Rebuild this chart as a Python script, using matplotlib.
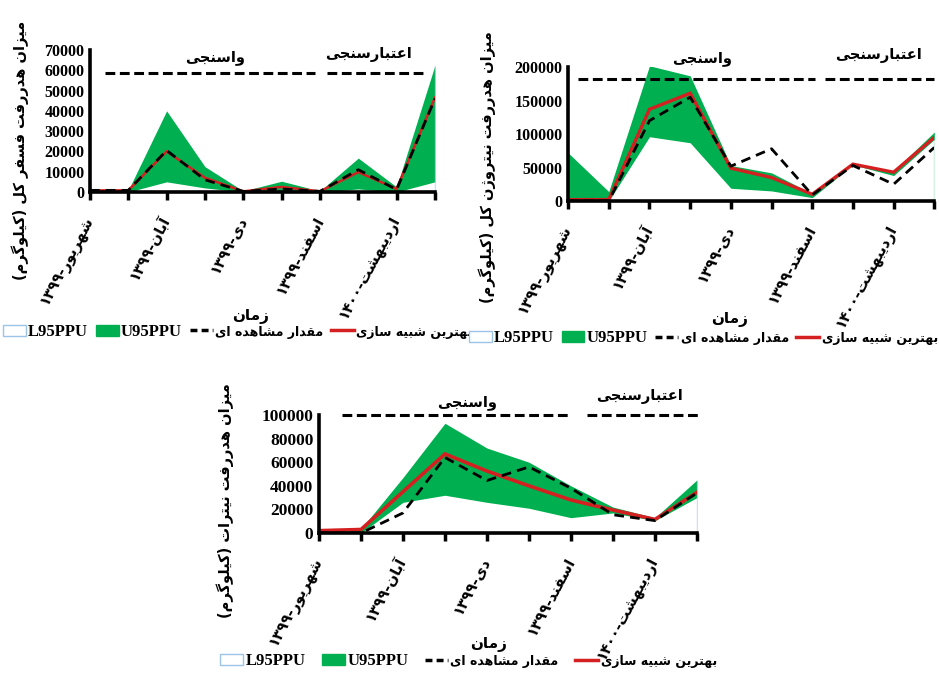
import re
import matplotlib
matplotlib.use('Agg')
import matplotlib.pyplot as plt
from matplotlib.patches import Patch
from matplotlib.lines import Line2D

# ماه‌ها (فقط ماه‌های زوج برچسب دارند)
month_labels = ['شهریور-۱۳۹۹', '', 'آبان-۱۳۹۹', '', 'دی-۱۳۹۹', '',
                'اسفند-۱۳۹۹', '', 'اردیبهشت-۱۴۰۰', '']

# فسفر کل
phos_obs = [800, 800, 20500, 6000, 300, 1500, 300, 11000, 1200, 46000]
phos_sim = [800, 800, 20000, 7000, 300, 2500, 300, 9800, 1500, 46500]
phos_u95 = [900, 900, 40000, 12500, 500, 5300, 500, 16700, 2500, 62500]
phos_l95 = [0, 0, 5000, 2000, 0, 500, 0, 1500, 0, 5000]

# نیتروژن کل
nit_obs = [0, 0, 120000, 155000, 52000, 78000, 9000, 53000, 25000, 80000]
nit_sim = [2000, 2000, 137000, 161000, 49000, 35000, 10000, 55000, 43000, 95000]
nit_u95 = [72000, 14000, 202000, 187000, 53000, 42000, 11000, 56000, 45000, 103000]
nit_l95 = [0, 0, 96000, 87000, 19000, 15000, 5000, 54000, 38000, 92000]

# نیترات
no3_obs = [0, 0, 17000, 64000, 44500, 56000, 38000, 15500, 10500, 34000]
no3_sim = [2000, 3000, 35000, 67000, 52500, 40000, 28000, 19500, 11500, 34500]
no3_u95 = [2500, 3500, 47000, 93000, 72000, 60000, 40000, 22000, 13000, 45000]
no3_l95 = [0, 0, 26000, 32000, 26000, 21000, 13000, 17000, 10500, 30000]

GREEN = '#00B050'
RED = '#D42020'
EDGE = '#9DC3E6'

# شکل‌های حروف: (تنها، پایانی، آغازی، میانی)
FORMS = {
    'ا': ('\uFE8D', '\uFE8E', None, None),
    'آ': ('\uFE81', '\uFE82', None, None),
    'ب': ('\uFE8F', '\uFE90', '\uFE91', '\uFE92'),
    'ت': ('\uFE95', '\uFE96', '\uFE97', '\uFE98'),
    'ج': ('\uFE9D', '\uFE9E', '\uFE9F', '\uFEA0'),
    'د': ('\uFEA9', '\uFEAA', None, None),
    'ر': ('\uFEAD', '\uFEAE', None, None),
    'ز': ('\uFEAF', '\uFEB0', None, None),
    'ژ': ('\uFB8A', '\uFB8B', None, None),
    'س': ('\uFEB1', '\uFEB2', '\uFEB3', '\uFEB4'),
    'ش': ('\uFEB5', '\uFEB6', '\uFEB7', '\uFEB8'),
    'ع': ('\uFEC9', '\uFECA', '\uFECB', '\uFECC'),
    'ف': ('\uFED1', '\uFED2', '\uFED3', '\uFED4'),
    'ق': ('\uFED5', '\uFED6', '\uFED7', '\uFED8'),
    'ک': ('\uFB8E', '\uFB8F', '\uFB90', '\uFB91'),
    'گ': ('\uFB92', '\uFB93', '\uFB94', '\uFB95'),
    'ل': ('\uFEDD', '\uFEDE', '\uFEDF', '\uFEE0'),
    'م': ('\uFEE1', '\uFEE2', '\uFEE3', '\uFEE4'),
    'ن': ('\uFEE5', '\uFEE6', '\uFEE7', '\uFEE8'),
    'ه': ('\uFEE9', '\uFEEA', '\uFEEB', '\uFEEC'),
    'و': ('\uFEED', '\uFEEE', None, None),
    'ی': ('\uFBFC', '\uFBFD', '\uFBFE', '\uFBFF'),
}
MIRROR = {'(': ')', ')': '('}


def fa(text):
    # اتصال حروف و چیدن راست به چپ
    out = []
    for i, c in enumerate(text):
        if c not in FORMS:
            out.append(c)
            continue
        prev = text[i - 1] if i > 0 else ''
        nxt = text[i + 1] if i + 1 < len(text) else ''
        join_prev = prev in FORMS and FORMS[prev][2] is not None
        join_next = FORMS[c][2] is not None and nxt in FORMS
        if join_prev and join_next:
            out.append(FORMS[c][3])
        elif join_prev:
            out.append(FORMS[c][1])
        elif join_next:
            out.append(FORMS[c][2])
        else:
            out.append(FORMS[c][0])
    tokens = re.findall(r'[0-9\u06F0-\u06F9]+|.', ''.join(out))
    return ''.join(MIRROR.get(t, t) for t in reversed(tokens))


FA_FONT = {'family': 'DejaVu Sans', 'weight': 'bold'}
EN_FONT = {'family': 'Liberation Serif', 'weight': 'bold'}

fig = plt.figure(figsize=(9.39, 6.76), dpi=100)


def draw_panel(rect, obs, sim, low, up, yticks, ylabel, ylabel_xy, xlabel_xy,
               legend_xy, tick_size, red_lw, texts_y, line_y, spans,
               col_space=0.5):
    ax = fig.add_axes(rect)
    x = list(range(len(obs)))
    ax.fill_between(x, 0, up, color=GREEN, lw=0, zorder=1)
    ax.fill_between(x, 0, low, color='white', lw=0, zorder=1.1)
    ax.plot([x[-1], x[-1]], [0, up[-1]], color=EDGE, lw=0.9, zorder=1.2)
    ax.plot(x, sim, color=RED, lw=red_lw, zorder=3, solid_joinstyle='miter')
    ax.plot(x, obs, color='black', lw=2.0, ls=(0, (3.5, 2.2)), zorder=3.1)

    ax.set_xlim(0, x[-1])
    ax.set_ylim(0, yticks[-1])
    ax.set_yticks(yticks)
    ax.set_yticklabels([str(v) for v in yticks], fontdict=EN_FONT,
                       fontsize=tick_size)
    ax.tick_params(axis='y', length=0, pad=4)
    ax.set_xticks(x)
    ax.set_xticklabels([fa(m) for m in month_labels], fontdict=FA_FONT,
                       fontsize=10.5, rotation=62, ha='right', va='center',
                       rotation_mode='anchor')
    ax.tick_params(axis='x', length=6, width=2.5, pad=12)
    for side in ('top', 'right'):
        ax.spines[side].set_visible(False)
    for side in ('left', 'bottom'):
        ax.spines[side].set_linewidth(2.6)
        ax.spines[side].set_zorder(4)

    # بازه‌های واسنجی و اعتبارسنجی
    ax.text(spans[0][2], texts_y[0], fa('واسنجی'), transform=ax.transAxes,
            ha='center', va='center', fontsize=10.5, **FA_FONT)
    ax.text(spans[1][2], texts_y[1], fa('اعتبارسنجی'), transform=ax.transAxes,
            ha='center', va='center', fontsize=10.5, **FA_FONT)
    for x0, x1, _ in spans:
        ax.plot([x0, x1], [line_y, line_y], transform=ax.transAxes,
                color='black', lw=2.2, ls=(0, (3.2, 1.5)), clip_on=False)

    fig.text(ylabel_xy[0], ylabel_xy[1], fa(ylabel), rotation=90,
             ha='center', va='center', fontsize=10.5, **FA_FONT)
    fig.text(xlabel_xy[0], xlabel_xy[1], fa('زمان'), ha='center',
             va='center', fontsize=11, **FA_FONT)

    handles = [
        Patch(facecolor='white', edgecolor=EDGE, lw=1.0),
        Patch(facecolor=GREEN, edgecolor=GREEN),
        Line2D([], [], color='black', lw=2.5, ls=(0, (2, 1.2))),
        Line2D([], [], color=RED, lw=2.5),
    ]
    labels = ['L95PPU', 'U95PPU', fa('مقدار مشاهده ای'), fa('بهترین شبیه سازی')]
    leg = fig.legend(handles, labels, loc='center', ncol=4,
                     bbox_to_anchor=legend_xy, frameon=False,
                     prop={'size': 11}, handlelength=1.5, handleheight=0.75,
                     handletextpad=0.15, columnspacing=col_space,
                     borderaxespad=0, borderpad=0)
    for t in leg.get_texts()[:2]:
        t.set_fontfamily(EN_FONT['family'])
        t.set_fontweight('bold')
        t.set_fontsize(12)
    for t in leg.get_texts()[2:]:
        t.set_fontfamily(FA_FONT['family'])
        t.set_fontweight('bold')
        t.set_fontsize(9)
    return ax


draw_panel([0.0958, 0.716, 0.3674, 0.210], phos_obs, phos_sim, phos_l95, phos_u95,
           list(range(0, 70001, 10000)), 'میزان هدررفت فسفر کل (کیلوگرم)',
           (0.022, 0.778), (0.267, 0.532), (0.253, 0.509), 11.5, 1.8,
           (0.944, 0.965), 0.838, [(0.043, 0.652, 0.362), (0.687, 0.977, 0.806)])

draw_panel([0.605, 0.7027, 0.390, 0.198], nit_obs, nit_sim, nit_l95, nit_u95,
           list(range(0, 200001, 50000)), 'میزان هدررفت نیتروژن کل (کیلوگرم)',
           (0.519, 0.753), (0.777, 0.528), (0.749, 0.500), 11.5, 2.4,
           (1.067, 1.09), 0.91, [(0.027, 0.675, 0.366), (0.702, 1.0, 0.847)])

draw_panel([0.3397, 0.2115, 0.4025, 0.1746], no3_obs, no3_sim, no3_l95, no3_u95,
           list(range(0, 100001, 20000)), 'میزان هدررفت نیترات (کیلوگرم)',
           (0.240, 0.259), (0.520, 0.046), (0.499, 0.022), 12.5, 2.6,
           (1.11, 1.155), 1.0, [(0.06, 0.668, 0.392), (0.708, 1.003, 0.849)],
           col_space=1.1)

fig.savefig('out.png', dpi=100, facecolor='white')
